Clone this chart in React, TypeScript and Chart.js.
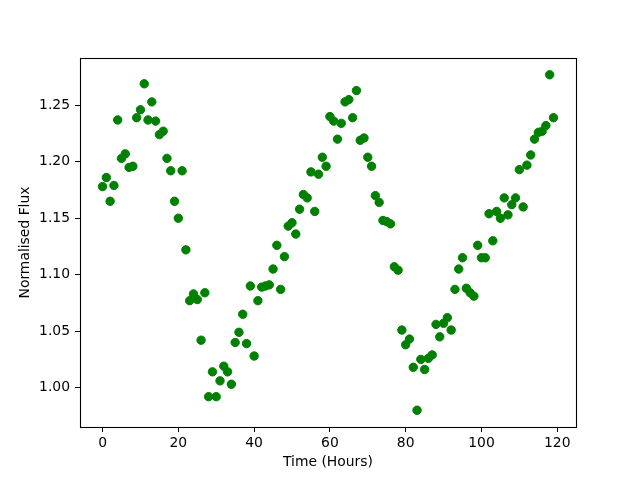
import React, { useEffect, useRef } from "react";
import { Chart, registerables } from "chart.js";

Chart.register(...registerables);

// Time in hours
const hours: number[] = [
  0, 1, 2, 3, 4, 5, 6, 7, 8, 9, 10, 11, 12, 13, 14, 15, 16, 17, 18, 19,
  20, 21, 22, 23, 24, 25, 26, 27, 28, 29, 30, 31, 32, 33, 34, 35, 36, 37, 38, 39,
  40, 41, 42, 43, 44, 45, 46, 47, 48, 49, 50, 51, 52, 53, 54, 55, 56, 57, 58, 59,
  60, 61, 62, 63, 64, 65, 66, 67, 68, 69, 70, 71, 72, 73, 74, 75, 76, 77, 78, 79,
  80, 81, 82, 83, 84, 85, 86, 87, 88, 89, 90, 91, 92, 93, 94, 95, 96, 97, 98, 99,
  100, 101, 102, 103, 104, 105, 106, 107, 108, 109, 110, 111, 112, 113, 114, 115, 116, 117, 118, 119,
];

// Normalised flux
const flux: number[] = [
  1.178, 1.186, 1.165, 1.179, 1.237, 1.203, 1.207, 1.195, 1.196, 1.239,
  1.246, 1.269, 1.237, 1.253, 1.236, 1.224, 1.227, 1.203, 1.192, 1.165,
  1.150, 1.192, 1.122, 1.077, 1.083, 1.078, 1.042, 1.084, 0.992, 1.014,
  0.992, 1.006, 1.019, 1.014, 1.003, 1.040, 1.049, 1.065, 1.039, 1.090,
  1.028, 1.077, 1.089, 1.090, 1.091, 1.105, 1.126, 1.087, 1.116, 1.143,
  1.146, 1.136, 1.158, 1.171, 1.168, 1.191, 1.156, 1.189, 1.204, 1.196,
  1.240, 1.236, 1.220, 1.234, 1.253, 1.255, 1.239, 1.263, 1.219, 1.221,
  1.204, 1.196, 1.170, 1.164, 1.148, 1.147, 1.145, 1.107, 1.104, 1.051,
  1.038, 1.043, 1.018, 0.980, 1.025, 1.016, 1.026, 1.029, 1.056, 1.045,
  1.057, 1.062, 1.051, 1.087, 1.105, 1.115, 1.088, 1.084, 1.081, 1.126,
  1.115, 1.115, 1.154, 1.130, 1.156, 1.150, 1.168, 1.153, 1.162, 1.168,
  1.193, 1.160, 1.197, 1.206, 1.220, 1.226, 1.227, 1.232, 1.277, 1.239,
];

const xTicks: number[] = [0, 20, 40, 60, 80, 100, 120];
const yTicks: number[] = [1.0, 1.05, 1.1, 1.15, 1.2, 1.25];

const FONT = "'DejaVu Sans', sans-serif";

const framePlugin = {
  id: "frame",
  afterDraw(chart: any) {
    const { ctx, chartArea } = chart;
    ctx.save();
    ctx.strokeStyle = "#000";
    ctx.lineWidth = 1.1;
    ctx.strokeRect(
      Math.round(chartArea.left) + 0.5,
      Math.round(chartArea.top) + 0.5,
      Math.round(chartArea.right - chartArea.left),
      Math.round(chartArea.bottom - chartArea.top)
    );
    ctx.restore();
  },
};

export default function App() {
  const canvasRef = useRef<HTMLCanvasElement | null>(null);

  useEffect(() => {
    if (!canvasRef.current) return;
    const points = hours.map((h, i) => ({ x: h, y: flux[i] }));
    const xMin = Math.min(...hours);
    const xMax = Math.max(...hours);
    const yMin = Math.min(...flux);
    const yMax = Math.max(...flux);
    const xm = (xMax - xMin) * 0.05;
    const ym = (yMax - yMin) * 0.05;

    const chart = new Chart(canvasRef.current, {
      type: "scatter",
      data: {
        datasets: [
          {
            data: points,
            backgroundColor: "#008000",
            borderColor: "#008000",
            borderWidth: 1,
            pointRadius: 4.2,
            pointHoverRadius: 4.2,
          },
        ],
      },
      options: {
        animation: false,
        responsive: false,
        devicePixelRatio: 1,
        layout: { padding: { left: 0, right: 64, top: 58, bottom: 0 } },
        plugins: {
          legend: { display: false },
          tooltip: { enabled: false },
        },
        scales: {
          x: {
            type: "linear",
            min: xMin - xm,
            max: xMax + xm,
            afterBuildTicks: (scale: any) => {
              scale.ticks = xTicks.map((v) => ({ value: v }));
            },
            afterFit: (scale: any) => {
              scale.height = 53;
            },
            grid: {
              display: true,
              drawOnChartArea: false,
              drawTicks: true,
              tickLength: 5,
              color: "#000",
              lineWidth: 1,
            },
            border: { display: false },
            ticks: {
              color: "#000",
              padding: 3,
              maxRotation: 0,
              autoSkip: false,
              font: { family: FONT, size: 13.9, lineHeight: 1.2 },
              callback: (v: any) => String(v),
            },
            title: {
              display: true,
              text: "Time (Hours)",
              color: "#000",
              padding: { top: 0, bottom: 9 },
              font: { family: FONT, size: 13.9, lineHeight: 1.2 },
            },
          },
          y: {
            type: "linear",
            min: yMin - ym,
            max: yMax + ym,
            afterBuildTicks: (scale: any) => {
              scale.ticks = yTicks.map((v) => ({ value: v }));
            },
            afterFit: (scale: any) => {
              scale.width = 80;
            },
            grid: {
              display: true,
              drawOnChartArea: false,
              drawTicks: true,
              tickLength: 5,
              color: "#000",
              lineWidth: 1,
            },
            border: { display: false },
            ticks: {
              color: "#000",
              padding: 5,
              autoSkip: false,
              font: { family: FONT, size: 13.9, lineHeight: 1.2 },
              callback: (v: any) => Number(v).toFixed(2),
            },
            title: {
              display: true,
              text: "Normalised Flux",
              color: "#000",
              padding: { top: 17, bottom: 0 },
              font: { family: FONT, size: 13.9, lineHeight: 1.2 },
            },
          },
        },
      },
      plugins: [framePlugin],
    });
    return () => chart.destroy();
  }, []);

  return (
    <div style={{ position: "absolute", left: 0, top: 0, width: 640, height: 480, background: "#fff" }}>
      <canvas ref={canvasRef} width={640} height={480} />
    </div>
  );
}
